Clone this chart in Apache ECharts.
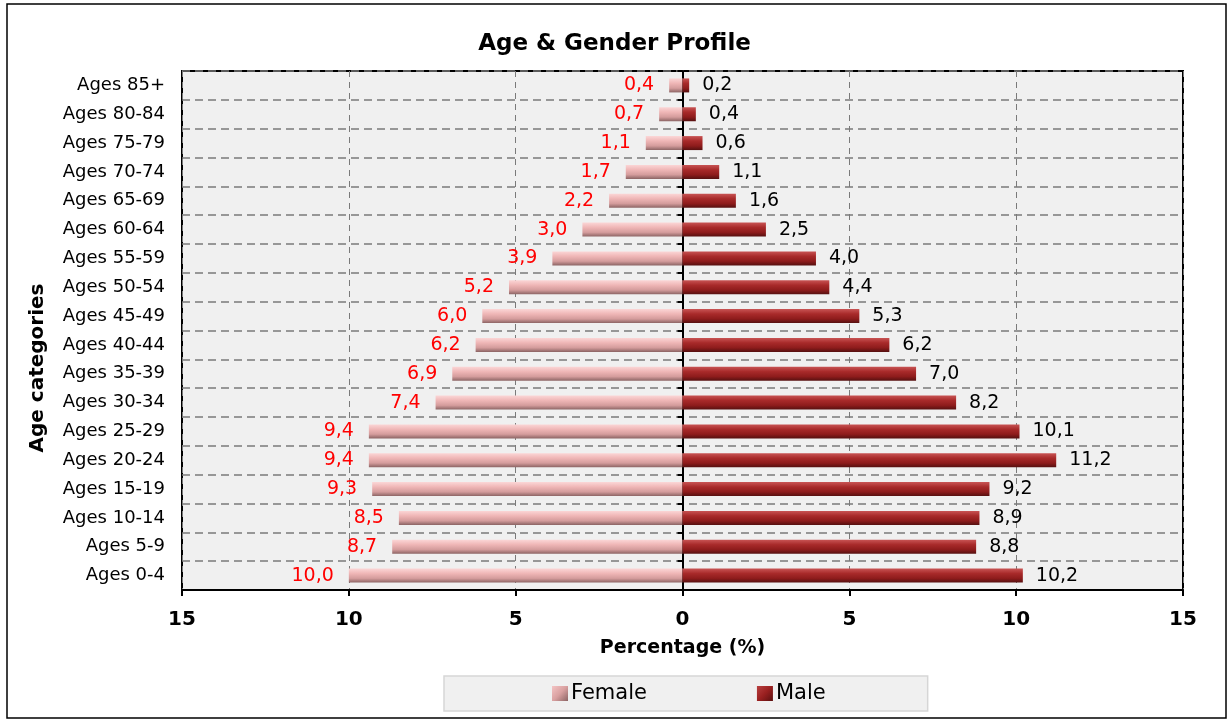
<!DOCTYPE html>
<html><head><meta charset="utf-8">
<script src="https://cdn.jsdelivr.net/npm/echarts@6/dist/echarts.min.js"></script>
<style>html,body{margin:0;padding:0;background:#fff}#c{width:1229px;height:722px}</style>
</head><body><div id="c"></div>
<script>
const categories = ['Ages 0-4','Ages 5-9','Ages 10-14','Ages 15-19','Ages 20-24','Ages 25-29','Ages 30-34','Ages 35-39','Ages 40-44','Ages 45-49','Ages 50-54','Ages 55-59','Ages 60-64','Ages 65-69','Ages 70-74','Ages 75-79','Ages 80-84','Ages 85+'];
const female = [10.0, 8.7, 8.5, 9.3, 9.4, 9.4, 7.4, 6.9, 6.2, 6.0, 5.2, 3.9, 3.0, 2.2, 1.7, 1.1, 0.7, 0.4];
const male = [10.2, 8.8, 8.9, 9.2, 11.2, 10.1, 8.2, 7.0, 6.2, 5.3, 4.4, 4.0, 2.5, 1.6, 1.1, 0.6, 0.4, 0.2];
const xTicks = {min: -15, max: 15, interval: 5};

const FONT = '"DejaVu Sans", Verdana, sans-serif';
const fmt = v => Math.abs(v).toFixed(1).replace('.', ',');

const femaleGrad = new echarts.graphic.LinearGradient(0,0,0,1,[
  {offset:0,color:'#fbd6d6'},{offset:0.35,color:'#efb6b6'},{offset:0.7,color:'#d49c9c'},{offset:1,color:'#8c6464'}]);
const maleGrad = new echarts.graphic.LinearGradient(0,0,0,1,[
  {offset:0,color:'#c85454'},{offset:0.35,color:'#a82a2a'},{offset:0.7,color:'#8e1c1c'},{offset:1,color:'#561010'}]);
const femaleIcon = new echarts.graphic.LinearGradient(0,0,1,1,[
  {offset:0,color:'#f4c4c4'},{offset:0.5,color:'#d9a0a0'},{offset:1,color:'#8c6464'}]);
const maleIcon = new echarts.graphic.LinearGradient(0,0,1,1,[
  {offset:0,color:'#b84040'},{offset:0.5,color:'#9a2020'},{offset:1,color:'#5a1010'}]);

const chart = echarts.init(document.getElementById('c'), null, {renderer:'canvas'});
chart.setOption({
  backgroundColor: '#fff',
  animation: false,
  textStyle: {fontFamily: FONT},
  title: {text: 'Age & Gender Profile', left: 'center', top: 28,
    textStyle: {fontFamily: FONT, fontSize: 23, fontWeight: 'bold', color: '#000'}},
  graphic: [
    {type:'rect', shape:{x:7, y:4, width:1219, height:714},
      style:{fill:'none', stroke:'#000', lineWidth:1.5}, silent:true, z:-1},
    {type:'text', x:38, y:368, rotation: Math.PI/2,
      style:{text:'Age categories', font:'bold 20px "DejaVu Sans", Verdana, sans-serif',
        fill:'#000', textAlign:'center', textVerticalAlign:'middle'}, silent:true}
  ],
  legend: {
    data: [{name:'Female', itemStyle:{color: femaleIcon}}, {name:'Male', itemStyle:{color: maleIcon}}],
    left: 444, top: 676,
    padding: [7, 102, 7, 108],
    itemGap: 110,
    itemWidth: 16, itemHeight: 15,
    icon: 'rect',
    backgroundColor: '#f0f0f0', borderColor: '#d6d6d6', borderWidth: 1.5,
    textStyle: {fontFamily: FONT, fontSize: 21, color: '#000', padding:[0,0,0,-2]}
  },
  grid: {left: 182, right: 46, top: 71, bottom: 132, show: true,
    backgroundColor: '#f0f0f0', borderColor: '#000', borderWidth: 2, containLabel: false},
  xAxis: {
    type: 'value', min: xTicks.min, max: xTicks.max, interval: xTicks.interval,
    name: 'Percentage (%)', nameLocation: 'middle', nameGap: 49,
    nameTextStyle: {fontFamily: FONT, fontSize: 19, fontWeight: 'bold', color: '#000'},
    axisLine: {show: true, onZero: false, lineStyle: {color: '#000', width: 2}},
    axisTick: {show: true, length: 6, lineStyle: {color: '#000', width: 2}},
    axisLabel: {formatter: v => Math.abs(v), fontFamily: FONT, fontSize: 20, fontWeight: 'bold', color: '#000', margin: 20},
    splitLine: {show: true, lineStyle: {color: '#7a7a7a', type: [6, 5], width: 1}}
  },
  yAxis: [{
    type: 'category', data: categories, position: 'left',
    axisLine: {show: false, onZero: false},
    axisTick: {show: false},
    axisLabel: {fontFamily: FONT, fontSize: 18, color: '#000', margin: 17},
    splitLine: {show: true, lineStyle: {color: '#7a7a7a', type: [8, 5], width: 1.5}}
  }, {
    type: 'category', data: categories, position: 'left',
    axisLine: {show: true, onZero: true, lineStyle: {color: '#000', width: 2}},
    axisTick: {show: true, length: 5, inside: false, lineStyle: {color: '#000', width: 2}},
    axisLabel: {show: false},
    splitLine: {show: false}
  }],
  series: [{
    name: 'Female', type: 'bar', stack: 'a', yAxisIndex: 0,
    data: female.map(v => -v),
    barWidth: 14,
    itemStyle: {color: femaleGrad},
    label: {show: true, position: 'left', distance: 15, formatter: p => fmt(p.value),
      color: '#ff0000', fontFamily: FONT, fontSize: 19},
    z: 3
  }, {
    name: 'Male', type: 'bar', stack: 'a', yAxisIndex: 0,
    data: male,
    barWidth: 14,
    itemStyle: {color: maleGrad},
    label: {show: true, position: 'right', distance: 13, formatter: p => fmt(p.value),
      color: '#000', fontFamily: FONT, fontSize: 19},
    z: 3
  }]
});
</script></body></html>
